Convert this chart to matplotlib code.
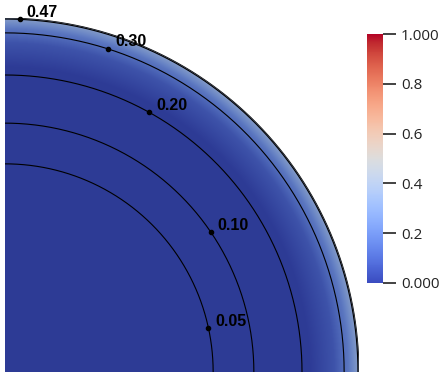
import numpy as np
import matplotlib
matplotlib.use("Agg")
import matplotlib.pyplot as plt
from matplotlib.patches import Wedge
from matplotlib import cm, colors

# ---- data ----
contour_levels = [0.05, 0.10, 0.20, 0.30, 0.47]
contour_radii = [0.588, 0.703, 0.839, 0.958, 0.997]      # normalised radius of each contour
label_angles = [12.2, 34.2, 61.0, 72.3, 87.6]            # degrees, position of label dot
label_texts = ["0.05", "0.10", "0.20", "0.30", "0.47"]
field_r = [0.0, 0.86, 0.93, 0.97, 1.0]                   # radial profile of displayed field
field_v = [0.0, 0.0, 0.07, 0.18, 0.34]
cbar_ticks = [0.0, 0.2, 0.4, 0.6, 0.8, 1.0]
cbar_ticklabels = ["0.000", "0.2", "0.4", "0.6", "0.8", "1.000"]

W, H = 445, 380
fig = plt.figure(figsize=(W / 100, H / 100), dpi=100)
ax = fig.add_axes([5 / W, 8 / H, 354 / W, 354 / H])
ax.set_xlim(0, 1)
ax.set_ylim(0, 1)
ax.axis("off")

cmap = plt.get_cmap("coolwarm")
norm = colors.Normalize(0, 1)

n = 700
xs = (np.arange(n) + 0.5) / n
X, Y = np.meshgrid(xs, xs)
R = np.hypot(X, Y)
V = np.interp(R, field_r, field_v)
rgba = cmap(norm(V))
shade = 0.78
rgba[..., :3] = rgba[..., :3] * shade
rgba[..., 3] = 1.0
im = ax.imshow(rgba, extent=(0, 1, 0, 1), origin="lower", interpolation="bilinear")
wedge = Wedge((0, 0), 1.0, 0, 90, transform=ax.transData, facecolor="none", edgecolor="none")
ax.add_patch(wedge)
im.set_clip_path(wedge)

th = np.linspace(0, np.pi / 2, 400)
for r in contour_radii:
    ax.plot(r * np.cos(th), r * np.sin(th), color="black", lw=0.8, solid_capstyle="butt")
ax.plot(np.cos(th), np.sin(th), color="#111111", lw=0.6)

for r, a, t in zip(contour_radii, label_angles, label_texts):
    x, y = r * np.cos(np.radians(a)), r * np.sin(np.radians(a))
    ax.plot([x], [y], "o", color="black", ms=3.0, clip_on=False)
    ax.annotate(t, (x, y), xytext=(7, 7), textcoords="offset pixels",
                fontsize=11.5, fontweight="bold", family="Liberation Sans",
                ha="left", va="center", annotation_clip=False)

cax = fig.add_axes([367 / W, (H - 283) / H, 16 / W, 249 / H])
sm = cm.ScalarMappable(norm=norm, cmap=cmap)
cb = fig.colorbar(sm, cax=cax, ticks=cbar_ticks)
cb.outline.set_visible(False)
cb.set_ticklabels(cbar_ticklabels)
cax.tick_params(length=9, width=1.2, pad=4, labelsize=11, colors="#222222")
for lab in cax.get_yticklabels():
    lab.set_family("Open Sans")

fig.savefig("out.png", dpi=100)
